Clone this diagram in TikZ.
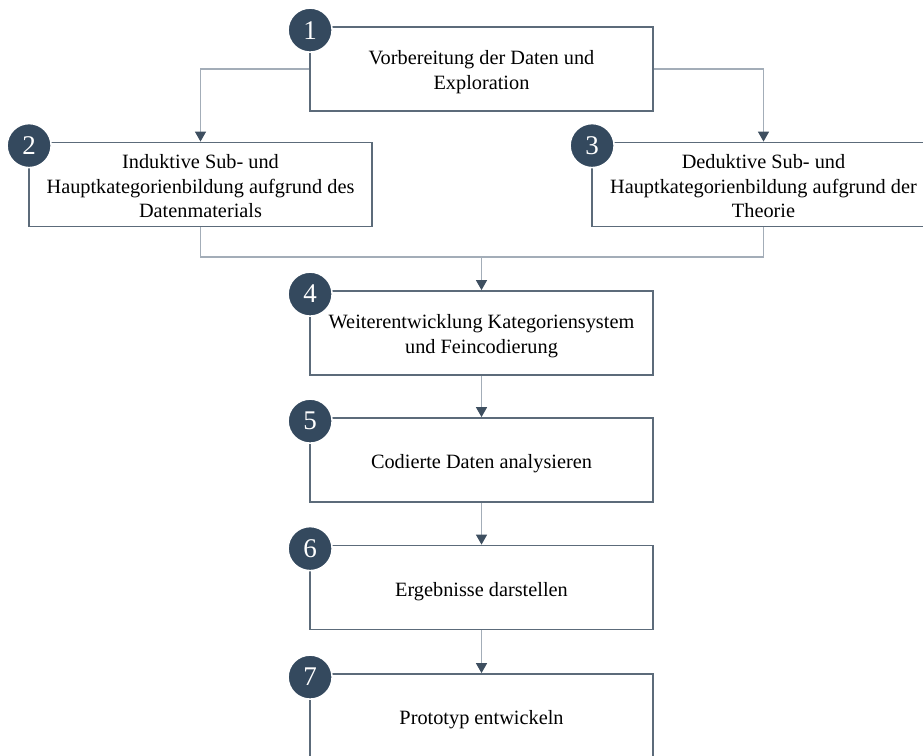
\documentclass[tikz,border=0pt]{standalone}
\usepackage{fontspec}
\setmainfont{Liberation Serif}
\usetikzlibrary{arrows.meta}
\definecolor{boxline}{HTML}{5C6B7A}
\definecolor{linkline}{HTML}{A3ADB8}
\definecolor{badge}{HTML}{34495E}
\definecolor{tipcol}{HTML}{3E4F60}
\tikzset{
  x=1pt, y=1pt,
  stepbox/.style={draw=boxline, line width=1.8pt, fill=white,
    minimum width=343pt, minimum height=84pt, inner sep=0pt},
  steptext/.style={align=center, inner sep=0pt,
    font=\fontsize{20.3}{24.5}\selectfont},
  badgecirc/.style={circle, fill=badge, draw=white, line width=1.5pt,
    minimum size=44pt, inner sep=0pt, text=white,
    font=\fontsize{27}{27}\selectfont},
  link/.style={draw=linkline, line width=1.4pt},
  linkarrow/.style={link, -{Triangle[width=11pt,length=10pt,color=tipcol]}},
}
\begin{document}
\begin{tikzpicture}
\useasboundingbox (0,0) rectangle (923,755);
\clip (0,0) rectangle (923,755);

% process step frames
\node[stepbox] (b1) at (481.5,686) {};
\node[stepbox] (b2) at (200.5,570.5) {};
\node[stepbox] (b3) at (763.5,570.5) {};
\node[stepbox] (b4) at (481.5,422) {};
\node[stepbox] (b5) at (481.5,295) {};
\node[stepbox] (b6) at (481.5,167.5) {};
\node[stepbox] (b7) at (481.5,39) {};

% step labels, set a little below the frame centre
\node[steptext] (t1) at ([yshift=-3pt]b1.center) {Vorbereitung der Daten und\\Exploration};
\node[steptext] (t2) at ([yshift=-2pt]b2.center) {Induktive Sub- und\\Hauptkategorienbildung aufgrund des\\Datenmaterials};
\node[steptext] (t3) at ([yshift=-2pt]b3.center) {Deduktive Sub- und\\Hauptkategorienbildung aufgrund der\\Theorie};
\node[steptext] (t4) at ([yshift=-3pt]b4.center) {Weiterentwicklung Kategoriensystem\\und Feincodierung};
\node[steptext] (t5) at ([yshift=-4pt]b5.center) {Codierte Daten analysieren};
\node[steptext] (t6) at ([yshift=-4pt]b6.center) {Ergebnisse darstellen};
\node[steptext] (t7) at ([yshift=-4pt]b7.center) {Prototyp entwickeln};

% connectors
\coordinate (j) at (481.5,498);
\draw[linkarrow] (b1.west) -| (b2.north);
\draw[linkarrow] (b1.east) -| (b3.north);
\draw[link] (b2.south) |- (j) -| (b3.south);
\draw[linkarrow] (j) -- (b4.north);
\draw[linkarrow] (b4.south) -- (b5.north);
\draw[linkarrow] (b5.south) -- (b6.north);
\draw[linkarrow] (b6.south) -- (b7.north);

% numbered badges
\foreach \b/\n in {b1/1,b2/2,b3/3,b4/4,b5/5,b6/6,b7/7}
  \node[badgecirc] (n\n) at ([xshift=1pt,yshift=-4pt]\b.north west) {\n};
\end{tikzpicture}
\end{document}
